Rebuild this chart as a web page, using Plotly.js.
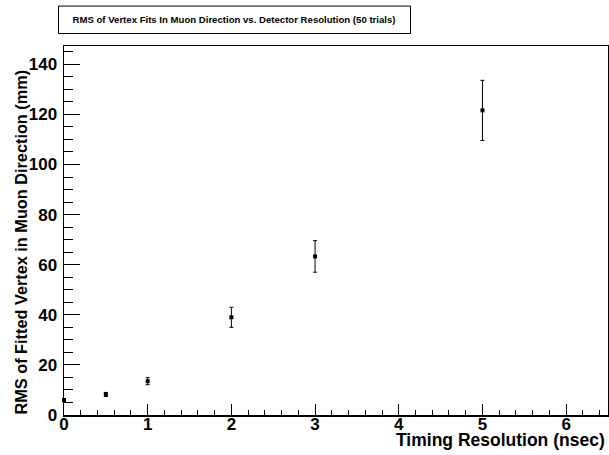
<!DOCTYPE html>
<html>
<head>
<meta charset="utf-8">
<script src="https://cdn.plot.ly/plotly-3.0.1.min.js"></script>
<style>html,body{margin:0;padding:0;background:#fff;}#chart{width:609px;height:455px;}</style>
</head>
<body>
<div id="chart"></div>
<script>
// Data
const timingResolution = [0, 0.5, 1, 2, 3, 5];          // nsec
const rmsVertex        = [6.0, 8.2, 13.5, 39.0, 63.3, 121.6]; // mm
const rmsError         = [0.5, 0.8, 1.4, 4.0, 6.3, 12.0];    // mm

const xTickVals = [0, 1, 2, 3, 4, 5, 6];
const yTickVals = [0, 20, 40, 60, 80, 100, 120, 140];

const FONT = '"Liberation Sans", Arial, Helvetica, sans-serif';

const trace = {
  x: timingResolution,
  y: rmsVertex,
  type: 'scatter',
  mode: 'markers',
  marker: {symbol: 'square', size: 4, color: '#000'},
  error_y: {type: 'data', array: rmsError, visible: true, color: '#000', thickness: 1, width: 2},
  cliponaxis: false,
  hoverinfo: 'none'
};

const L = 64, R = 608, T = 45.5, B = 415;
const pw = R - L, ph = B - T;
const px = v => (v - L) / pw;
const py = v => (B - v) / ph;

const layout = {
  width: 609, height: 455,
  margin: {l: L, r: 609 - R, t: T, b: 455 - B, pad: 0},
  paper_bgcolor: '#fff', plot_bgcolor: '#fff',
  showlegend: false,
  font: {family: FONT, color: '#000'},
  title: {
    text: '<b>RMS of Vertex Fits In Muon Direction vs. Detector Resolution (50 trials)</b>',
    font: {family: FONT, size: 9.6, color: '#000'},
    xref: 'container', yref: 'container',
    x: 234 / 609, y: 1 - 19.5 / 455, xanchor: 'center', yanchor: 'middle'
  },
  xaxis: {
    range: [0, 6.5],
    tickvals: xTickVals,
    ticktext: xTickVals.map(String),
    ticks: 'inside', ticklen: 11, tickwidth: 1, tickcolor: '#000',
    minor: {ticks: 'inside', ticklen: 5, tickwidth: 1, tickcolor: '#000', dtick: 0.2, showgrid: false},
    showgrid: false, zeroline: false,
    showline: true, linecolor: '#000', linewidth: 1.5, mirror: true,
    tickfont: {family: FONT, size: 17, color: '#000', weight: 'bold'},
    ticklabelstandoff: -7
  },
  yaxis: {
    range: [0, 147.3],
    tickvals: yTickVals,
    ticktext: yTickVals.map(String),
    ticks: 'inside', ticklen: 16, tickwidth: 1, tickcolor: '#000',
    minor: {ticks: 'inside', ticklen: 9, tickwidth: 1, tickcolor: '#000', dtick: 5, showgrid: false},
    showgrid: false, zeroline: false,
    showline: true, linecolor: '#000', linewidth: 1.5, mirror: true,
    tickfont: {family: FONT, size: 17, color: '#000', weight: 'bold'},
    ticklabelstandoff: 2
  },
  shapes: [{
    type: 'rect', xref: 'paper', yref: 'paper',
    x0: px(58.5), x1: px(410.5), y0: py(33), y1: py(5.5),
    line: {color: '#000', width: 1}, fillcolor: 'rgba(0,0,0,0)'
  }],
  annotations: [
    {
      text: '<b>Timing Resolution (nsec)</b>', xref: 'paper', yref: 'paper',
      x: px(607), y: py(440), xanchor: 'right', yanchor: 'middle', showarrow: false,
      font: {family: FONT, size: 17.5, color: '#000'}
    },
    {
      text: '<b>RMS of Fitted Vertex in Muon Direction (mm)</b>', xref: 'paper', yref: 'paper',
      x: px(21), y: py(417), xanchor: 'center', yanchor: 'bottom', textangle: -90, showarrow: false,
      font: {family: FONT, size: 16.3, color: '#000'}
    }
  ]
};

Plotly.newPlot('chart', [trace], layout, {displayModeBar: false, staticPlot: true});
</script>
</body>
</html>
